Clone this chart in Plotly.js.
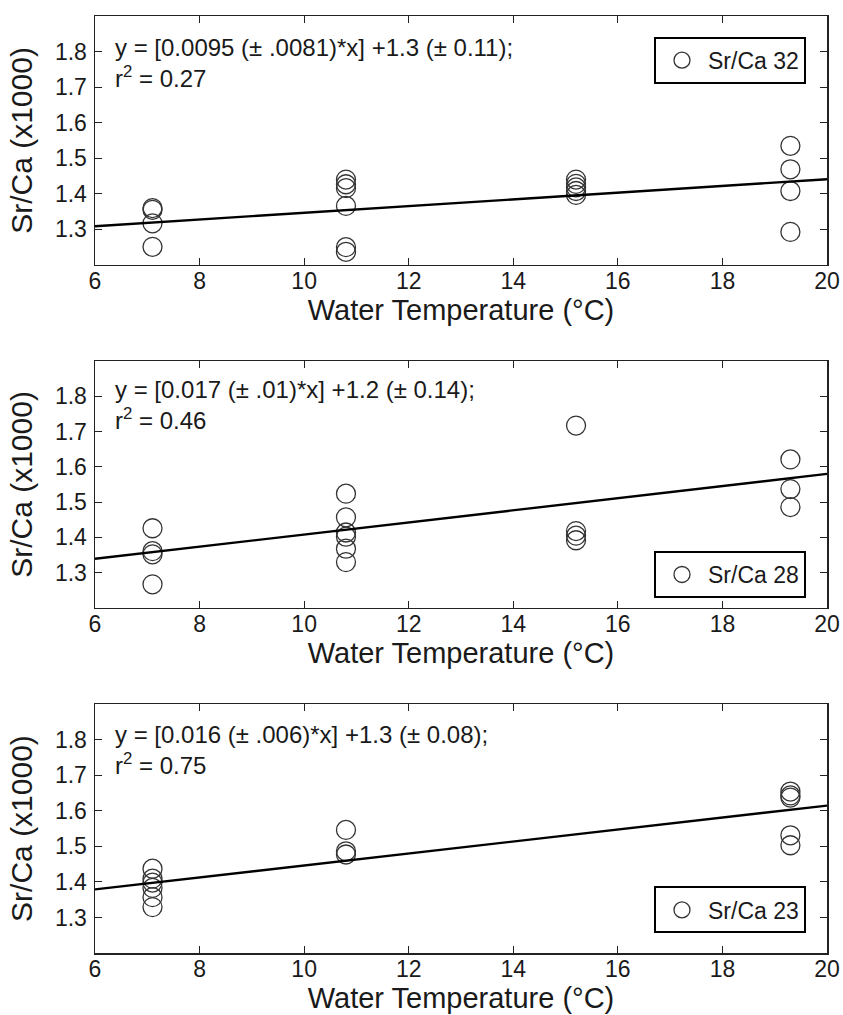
<!DOCTYPE html>
<html>
<head>
<meta charset="utf-8">
<script src="https://cdn.plot.ly/plotly-3.0.1.min.js"></script>
<style>html,body{margin:0;padding:0;background:#fff;}#chart{width:843px;height:1015px;}</style>
</head>
<body>
<div id="chart"></div>
<script>
// ---- data ----
const xTicks = [6, 8, 10, 12, 14, 16, 18, 20];
const yTicks = [1.3, 1.4, 1.5, 1.6, 1.7, 1.8];

const temp32 = [7.1, 7.1, 7.1, 7.1, 10.8, 10.8, 10.8, 10.8, 10.8, 10.8, 15.2, 15.2, 15.2, 15.2, 15.2, 19.3, 19.3, 19.3, 19.3];
const srca32 = [1.360, 1.355, 1.317, 1.251, 1.440, 1.427, 1.416, 1.366, 1.250, 1.237, 1.440, 1.428, 1.418, 1.408, 1.397, 1.535, 1.469, 1.408, 1.293];

const temp28 = [7.1, 7.1, 7.1, 7.1, 10.8, 10.8, 10.8, 10.8, 10.8, 10.8, 15.2, 15.2, 15.2, 15.2, 19.3, 19.3, 19.3];
const srca28 = [1.426, 1.361, 1.352, 1.267, 1.524, 1.457, 1.414, 1.402, 1.368, 1.330, 1.717, 1.418, 1.405, 1.392, 1.621, 1.537, 1.486];

const temp23 = [7.1, 7.1, 7.1, 7.1, 7.1, 7.1, 10.8, 10.8, 10.8, 19.3, 19.3, 19.3, 19.3, 19.3];
const srca23 = [1.437, 1.409, 1.398, 1.383, 1.357, 1.329, 1.546, 1.486, 1.477, 1.654, 1.643, 1.637, 1.531, 1.503];

const seriesNames = ['Sr/Ca 32', 'Sr/Ca 28', 'Sr/Ca 23'];
const fitSlopes = [0.00943, 0.01718, 0.01682];
const fitIntercepts = [1.2524, 1.2364, 1.2780];
const fitX = [6, 20];
const equationLines = [
  'y = [0.0095 (\u00B1 .0081)*x] +1.3 (\u00B1 0.11);',
  'y = [0.017 (\u00B1 .01)*x] +1.2 (\u00B1 0.14);',
  'y = [0.016 (\u00B1 .006)*x] +1.3 (\u00B1 0.08);'
];
const r2Lines = [
  'r<sup>2</sup> = 0.27',
  'r<sup>2</sup> = 0.46',
  'r<sup>2</sup> = 0.75'
];
const xTitle = 'Water Temperature (\u00B0C)';
const yTitle = 'Sr/Ca (x1000)';

// ---- build ----
const FONT = '"Liberation Sans", Arial, Helvetica, sans-serif';
const INK = '#1a1a1a';
const temps = [temp32, temp28, temp23];
const vals = [srca32, srca28, srca23];
const suffix = ['', '2', '3'];
const yDomains = [[0.7343, 1.0], [0.3682, 0.6318], [0.0, 0.2657]];
const legendTops = [0.9779, 0.4290, 0.0710];
const eqShift = [-16.3, -12.6, -14.6];

const traces = [];
const layout = {
  width: 843, height: 1015,
  margin: {l: 95, r: 16, t: 16, b: 62},
  paper_bgcolor: '#fff', plot_bgcolor: '#fff',
  font: {family: FONT, color: INK},
  annotations: []
};

for (let i = 0; i < 3; i++) {
  const s = suffix[i];
  traces.push({
    type: 'scatter', mode: 'markers',
    x: temps[i], y: vals[i],
    xaxis: 'x' + s, yaxis: 'y' + s,
    name: seriesNames[i],
    legend: 'legend' + s,
    marker: {symbol: 'circle-open', size: 19, color: '#333', line: {width: 1.3, color: '#333'}},
    cliponaxis: false
  });
  traces.push({
    type: 'scatter', mode: 'lines',
    x: fitX, y: fitX.map(v => fitSlopes[i] * v + fitIntercepts[i]),
    xaxis: 'x' + s, yaxis: 'y' + s,
    line: {color: '#000', width: 2.4},
    showlegend: false, hoverinfo: 'skip'
  });

  layout['xaxis' + s] = {
    domain: [0, 1], anchor: 'y' + s,
    range: [6, 20], tickvals: xTicks, ticktext: xTicks.map(String),
    ticks: 'inside', ticklen: 7, tickwidth: 1.2, tickcolor: '#222',
    showline: true, linecolor: '#222', linewidth: 1.5, mirror: 'ticks',
    showgrid: false, zeroline: false,
    tickfont: {size: 23, color: INK, family: FONT},
    ticklabelstandoff: -5,
    title: {text: xTitle, font: {size: 29, color: INK, family: FONT}, standoff: 0}
  };
  layout['yaxis' + s] = {
    domain: yDomains[i], anchor: 'x' + s,
    range: [1.2, 1.9], tickvals: yTicks, ticktext: yTicks.map(v => v.toFixed(1)),
    ticks: 'inside', ticklen: 7, tickwidth: 1.2, tickcolor: '#222',
    showline: true, linecolor: '#222', linewidth: 1.5, mirror: 'ticks',
    showgrid: false, zeroline: false,
    tickfont: {size: 23, color: INK, family: FONT},
    ticklabelstandoff: 2,
    title: {text: yTitle, font: {size: 30, color: INK, family: FONT}, standoff: 13}
  };
  layout['legend' + s] = {
    x: 0.9713, xanchor: 'right', y: legendTops[i], yanchor: 'top',
    xref: 'paper', yref: 'paper',
    bgcolor: '#fff', bordercolor: '#000', borderwidth: 2,
    font: {size: 23, color: INK, family: FONT},
    itemsizing: 'trace', itemwidth: 42
  };
  layout.annotations.push({
    xref: 'x' + s + ' domain', yref: 'y' + s + ' domain',
    x: 0.024, y: 1, xanchor: 'left', yanchor: 'top', yshift: eqShift[i],
    align: 'left', showarrow: false,
    text: equationLines[i] + '<br>' + r2Lines[i],
    font: {size: 24, color: INK, family: FONT}
  });
}

Plotly.newPlot('chart', traces, layout, {staticPlot: true, displayModeBar: false});
</script>
</body>
</html>
